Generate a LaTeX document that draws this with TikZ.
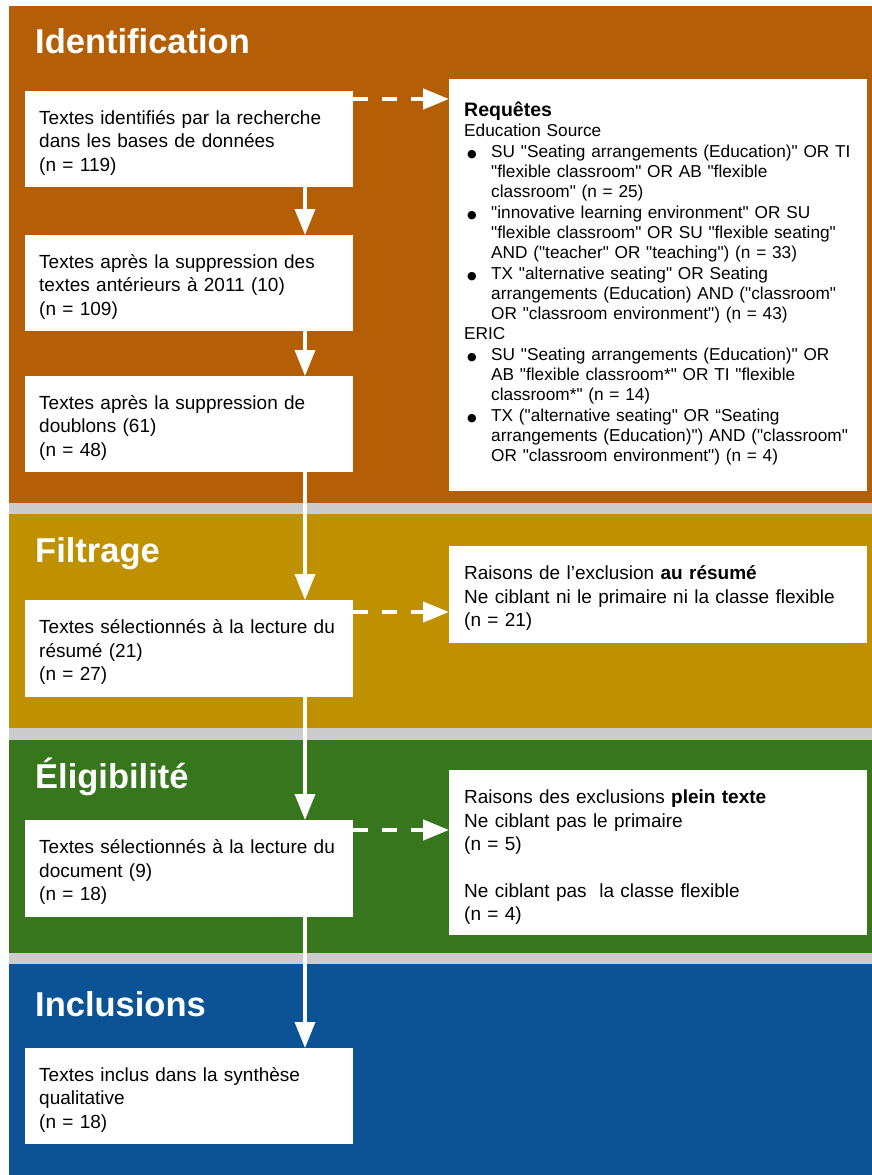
\documentclass[tikz,border=0pt]{standalone}
\usepackage{fontspec}
\setmainfont{Liberation Sans}[Ligatures=TeXOff]
\newfontfamily\symfont{DejaVu Sans}
\usetikzlibrary{arrows.meta,calc}
\definecolor{cbrown}{HTML}{B45F06}
\definecolor{cgold}{HTML}{BF9000}
\definecolor{cgreen}{HTML}{38761D}
\definecolor{cblue}{HTML}{0B5394}
\definecolor{cgray}{HTML}{CCCCCC}
\setlength\parindent{0pt}
\setlength\parskip{0pt}
\newcommand\blt{\par\hangindent=27pt\hangafter=0\noindent\llap{\makebox[24pt][l]{{\symfont\fontsize{11}{11}\selectfont ●}}}}
\begin{document}
\begin{tikzpicture}[x=1pt,y=-1pt,
  box/.style={fill=white, draw=none, anchor=north west, inner xsep=14pt, inner ysep=4pt,
    text width=300pt, align=left, font=\fontsize{19}{23.3}\selectfont, text=black},
  rbox/.style={box, inner xsep=15pt, text width=388pt},
  ttl/.style={anchor=base west, text=white, inner sep=0pt, font=\bfseries\fontsize{34.5}{40}\selectfont},
  flow/.style={draw=white, line width=3.3pt, -{Triangle[length=26pt,width=20pt]}},
  side/.style={draw=white, line width=4.5pt, dash pattern=on 15pt off 14pt, -{Triangle[length=26pt,width=20pt]}},
]
\useasboundingbox (0,0) rectangle (872,1175);
\fill[white] (0,0) rectangle (872,1175);
\fill[cbrown] (9,6) rectangle (872,503);
\fill[cgray] (9,503) rectangle (872,514);
\fill[cgold] (9,514) rectangle (872,728);
\fill[cgray] (9,728) rectangle (872,740);
\fill[cgreen] (9,740) rectangle (872,953);
\fill[cgray] (9,953) rectangle (872,964);
\fill[cblue] (9,964) rectangle (872,1175);

\node[ttl] (t1) at (35,53) {Identification};
\node[ttl] (t2) at (35,562) {Filtrage};
\node[ttl] (t3) at (35,788) {Éligibilité};
\node[ttl] (t4) at (35,1016) {Inclusions};

\node[box, minimum height=96pt] (b1) at (25,91) {Textes identifiés par la recherche\\dans les bases de données\\(n = 119)\par\vspace*{-7pt}};
\node[box, minimum height=96pt] (b2) at (25,235) {Textes après la suppression des\\textes antérieurs à 2011 (10)\\(n = 109)\par\vspace*{-7pt}};
\node[box, minimum height=96pt] (b3) at (25,376) {Textes après la suppression de\\doublons (61)\\(n = 48)\par\vspace*{-7pt}};
\node[box, minimum height=97pt] (b4) at (25,600) {Textes sélectionnés à la lecture du\\résumé (21)\\(n = 27)\par\vspace*{-7pt}};
\node[box, minimum height=97pt] (b5) at (25,820) {Textes sélectionnés à la lecture du\\document (9)\\(n = 18)\par\vspace*{-7pt}};
\node[box, minimum height=96pt] (b6) at (25,1048) {Textes inclus dans la synthèse\\qualitative\\(n = 18)\par\vspace*{-7pt}};

\node[rbox, minimum height=412pt, font=\fontsize{17.25}{20.3}\selectfont] (req) at (449,79) {%
{\fontsize{19.5}{22}\selectfont\bfseries Requêtes\par}
Education Source
\blt SU "Seating arrangements (Education)" OR TI\newline "flexible classroom" OR AB "flexible\newline classroom" (n = 25)
\blt "innovative learning environment" OR SU\newline "flexible classroom" OR SU "flexible seating"\newline AND ("teacher" OR "teaching") (n = 33)
\blt TX "alternative seating" OR Seating\newline arrangements (Education) AND ("classroom"\newline OR "classroom environment") (n = 43)\par
ERIC
\blt SU "Seating arrangements (Education)" OR\newline AB "flexible classroom*" OR TI "flexible\newline classroom*" (n = 14)
\blt TX ("alternative seating" OR “Seating\newline arrangements (Education)") AND ("classroom"\newline OR "classroom environment") (n = 4)\par
\vspace*{3pt}};

\node[rbox, minimum height=97pt] (ex1) at (449,546) {Raisons de l’exclusion \textbf{au résumé}\\Ne ciblant ni le primaire ni la classe flexible\\(n = 21)\par\vspace*{-7pt}};
\node[rbox, minimum height=165pt] (ex2) at (449,770) {Raisons des exclusions \textbf{plein texte}\\Ne ciblant pas le primaire\\(n = 5)\\ \mbox{}\\Ne ciblant pas\ \ la classe flexible\\(n = 4)\par\vspace*{-9pt}};

\coordinate (cx) at (305,0);
\draw[flow] (b1.south -| cx) -- (b2.north -| cx);
\draw[flow] (b2.south -| cx) -- (b3.north -| cx);
\draw[flow] (b3.south -| cx) -- (b4.north -| cx);
\draw[flow] (b4.south -| cx) -- (b5.north -| cx);
\draw[flow] (b5.south -| cx) -- (b6.north -| cx);

\coordinate (s1) at ($(b1.north east)+(0,8)$);
\coordinate (s2) at ($(b4.north east)+(0,12)$);
\coordinate (s3) at ($(b5.north east)+(0,10)$);
\draw[side] (s1) -- (s1 -| req.west);
\draw[side] (s2) -- (s2 -| ex1.west);
\draw[side] (s3) -- (s3 -| ex2.west);
\end{tikzpicture}
\end{document}
